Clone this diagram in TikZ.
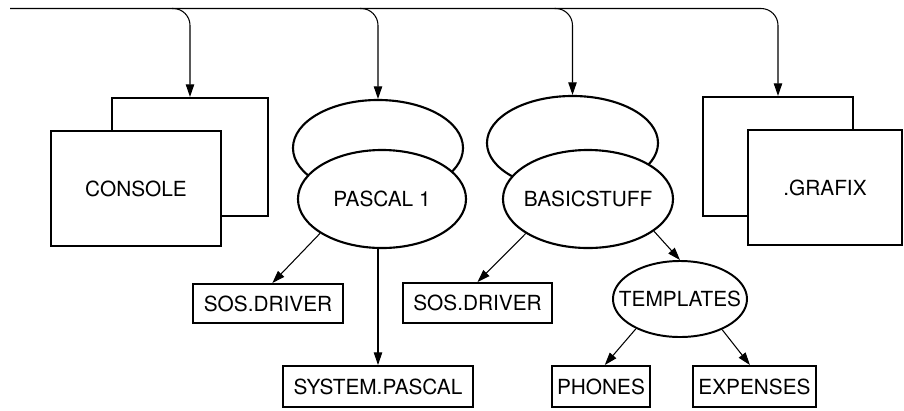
\documentclass[tikz,border=0pt]{standalone}
\usepackage{fontspec}
\setmainfont{TeX Gyre Heros}
\usetikzlibrary{arrows.meta,shapes.geometric,calc}
\newcommand{\olabel}[1]{\makebox[0pt]{#1}}

\begin{document}
\begin{tikzpicture}[
  x=0.025cm, y=-0.025cm,
  font=\fontsize{14.8}{17}\selectfont,
  box/.style={rectangle, draw, line width=1.5pt, fill=white, inner sep=0pt},
  blob/.style={ellipse, draw, line width=1.5pt, fill=white, inner sep=0pt},
  file/.style={rectangle, draw, line width=1.4pt, fill=white, inner sep=0pt},
  arr/.style={-{Triangle[length=9pt,width=6pt]}, line width=0.75pt},
]
  \useasboundingbox (0,0) rectangle (904,410);

  % Back layer
  \node[box, minimum width=3.9cm, minimum height=2.95cm] (backcon) at (190,157) {};
  \node[blob, minimum width=4.25cm, minimum height=2.4cm] (backpas) at (378,148) {};
  \node[blob, minimum width=4.275cm, minimum height=2.35cm] (backbas) at (572.5,143) {};
  \node[box, minimum width=3.75cm, minimum height=2.975cm] (backgfx) at (778,156.5) {};

  % Front layer
  \node[box, minimum width=4.25cm, minimum height=2.875cm] (con) at (136,188.5) {CONSOLE};
  \node[blob, minimum width=4.2cm, minimum height=2.45cm] (pas) at (382,199) {\olabel{PASCAL 1}};
  \node[blob, minimum width=4.25cm, minimum height=2.45cm] (bas) at (588,199) {\olabel{BASICSTUFF}};
  \node[box, minimum width=3.85cm, minimum height=2.875cm] (gfx) at (825,187.5) {.GRAFIX};

  % Files
  \node[file, minimum width=3.75cm, minimum height=0.975cm] (sos1) at (268,303.5) {SOS.DRIVER};
  \node[file, minimum width=4.75cm, minimum height=1.025cm] (syspas) at (378,386.5) {SYSTEM.PASCAL};
  \node[file, minimum width=3.725cm, minimum height=1cm] (sos2) at (477.5,303) {SOS.DRIVER};
  \node[blob, line width=1.4pt, minimum width=3.35cm, minimum height=1.9cm] (templ) at (680,299) {\olabel{TEMPLATES}};
  \node[file, minimum width=2.45cm, minimum height=1.025cm] (phones) at (601,386.5) {PHONES};
  \node[file, minimum width=3.075cm, minimum height=1.025cm] (expenses) at (754.5,386.5) {EXPENSES};

  % Bus
  \coordinate (busL) at (10,8.5);
  \draw[arr, rounded corners=12pt] (busL) -| (backgfx);
  \draw[arr, rounded corners=12pt] ($(backcon.north |- busL)+(-18,0)$) -| (backcon);
  \draw[arr, rounded corners=12pt] ($(backpas.north |- busL)+(-18,0)$) -| (backpas);
  \draw[arr, rounded corners=12pt] ($(backbas.north |- busL)+(-18,0)$) -| (backbas);

  % Arrows
  \draw[arr] (pas.209) -- (sos1.78);
  \draw[arr] (syspas.north |- pas.south) -- (syspas.north);
  \draw[arr] (bas.209) -- (sos2.north);
  \draw[arr] (bas.334) -- (templ.north);
  \draw[arr] (templ.214) -- (phones.80);
  \draw[arr] (templ.324) -- (expenses.102);

\end{tikzpicture}
\end{document}
